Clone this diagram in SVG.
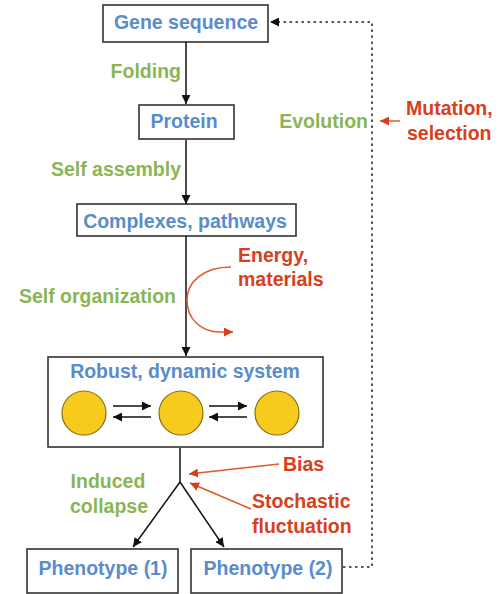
<svg xmlns="http://www.w3.org/2000/svg" width="503" height="594" viewBox="0 0 503 594">
<defs>
<style>
.box{fill:#fff;stroke:#333;stroke-width:1.6}
.t{font-family:"Liberation Sans",Arial,sans-serif;font-weight:bold;font-size:19.5px}
.blue{fill:#5a8ccb}
.green{fill:#8bb555}
.red{fill:#d8401c}
.c{text-anchor:middle}
.e{text-anchor:end}
.ln{stroke:#111;stroke-width:1.5;fill:none}
.rl{stroke:#e0582c;stroke-width:1.5;fill:none}
.dot{stroke:#222;stroke-width:1.5;fill:none;stroke-dasharray:2.5 3.5}
.circ{fill:#f7cb1e;stroke:#8a6d10;stroke-width:1.2}
</style>
<marker id="ab" viewBox="0 0 10 10" refX="10" refY="5" markerWidth="9" markerHeight="9" markerUnits="userSpaceOnUse" orient="auto"><path d="M0,0 L10,5 L0,10 z" fill="#111"/></marker>
<marker id="ar" viewBox="0 0 10 10" refX="10" refY="5" markerWidth="9" markerHeight="9" markerUnits="userSpaceOnUse" orient="auto"><path d="M0,0 L10,5 L0,10 z" fill="#d8401c"/></marker>
</defs>
<g id="gene"><rect class="box" x="103" y="5" width="165" height="37"/><text class="t blue c" x="186" y="29">Gene sequence</text></g>
<g id="protein"><rect class="box" x="139" y="105" width="95" height="34"/><text class="t blue c" x="184" y="128">Protein</text></g>
<g id="complexes"><rect class="box" x="77" y="204" width="219" height="32"/><text class="t blue c" x="185" y="228">Complexes, pathways</text></g>
<g id="robust"><rect class="box" x="48" y="357" width="275" height="90"/><text class="t blue c" x="185" y="378">Robust, dynamic system</text>
<circle class="circ" cx="84" cy="413" r="22"/><circle class="circ" cx="181" cy="413" r="22"/><circle class="circ" cx="277" cy="413" r="22"/></g>
<g id="pheno1"><rect class="box" x="27" y="549" width="151" height="44"/><text class="t blue c" x="103" y="575">Phenotype (1)</text></g>
<g id="pheno2"><rect class="box" x="191" y="549" width="151" height="44"/><text class="t blue c" x="268" y="575">Phenotype (2)</text></g>
<g id="connectors">
<line class="ln" x1="186" y1="42" x2="186" y2="104" marker-end="url(#ab)"/>
<line class="ln" x1="186" y1="140" x2="186" y2="204" marker-end="url(#ab)"/>
<line class="ln" x1="186" y1="236" x2="186" y2="356" marker-end="url(#ab)"/>
<polyline class="ln" points="180,448 180,482"/>
<line class="ln" x1="180" y1="482" x2="133" y2="547" marker-end="url(#ab)"/>
<line class="ln" x1="180" y1="482" x2="224" y2="547" marker-end="url(#ab)"/>
<line class="ln" x1="113" y1="406" x2="151" y2="406" marker-end="url(#ab)"/>
<line class="ln" x1="151" y1="417" x2="113" y2="417" marker-end="url(#ab)"/>
<line class="ln" x1="209" y1="406" x2="247" y2="406" marker-end="url(#ab)"/>
<line class="ln" x1="247" y1="417" x2="209" y2="417" marker-end="url(#ab)"/>
<polyline class="dot" points="343,567 372,567 372,22 270,22" marker-end="url(#ab)"/>
<line class="rl" x1="400" y1="121" x2="380" y2="121" marker-end="url(#ar)"/>
<path class="rl" d="M231,267 C202,267 187,283 187,300 C187,318 200,332 220,332 L233,332" marker-end="url(#ar)"/>
<line class="rl" x1="279" y1="464" x2="189" y2="474" marker-end="url(#ar)"/>
<line class="rl" x1="251" y1="509" x2="190" y2="483" marker-end="url(#ar)"/>
</g>
<g id="labels">
<text class="t green e" x="181" y="78">Folding</text>
<text class="t green e" x="181" y="176">Self assembly</text>
<text class="t green e" x="176" y="303">Self organization</text>
<text class="t green e" x="368" y="128">Evolution</text>
<text class="t green c" x="108" y="488">Induced</text>
<text class="t green c" x="109" y="513">collapse</text>
<text class="t red" x="238" y="262">Energy,</text>
<text class="t red" x="238" y="286">materials</text>
<text class="t red" x="406" y="115">Mutation,</text>
<text class="t red" x="407" y="140">selection</text>
<text class="t red" x="283" y="471">Bias</text>
<text class="t red" x="252" y="508">Stochastic</text>
<text class="t red" x="252" y="533">fluctuation</text>
</g>
</svg>
